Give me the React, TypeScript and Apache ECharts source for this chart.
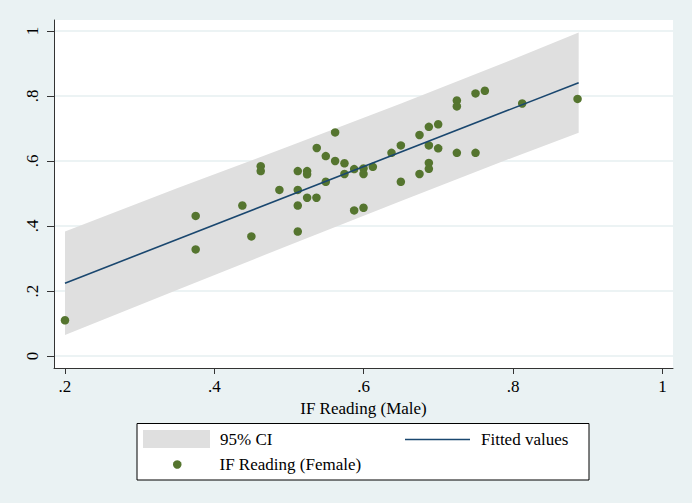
import React, { useEffect, useRef } from 'react';
import * as echarts from 'echarts';

// IF Reading (Male) on x, IF Reading (Female) on y
const maleReading = [
  0.2, 0.375, 0.375, 0.4375, 0.4496, 0.4621, 0.4621, 0.4871, 0.5117, 0.5117,
  0.5117, 0.5117, 0.5242, 0.5242, 0.5242, 0.5367, 0.5371, 0.5492, 0.5492, 0.5617,
  0.5617, 0.5742, 0.5742, 0.5872, 0.5872, 0.5997, 0.5997, 0.5997, 0.6122, 0.6372,
  0.6497, 0.6497, 0.6747, 0.6747, 0.6872, 0.6872, 0.6872, 0.6872, 0.6997, 0.6997,
  0.7247, 0.7247, 0.7247, 0.7497, 0.7497, 0.7622, 0.8122, 0.8863,
];
const femaleReading = [
  0.11, 0.431, 0.328, 0.463, 0.368, 0.584, 0.569, 0.511, 0.569, 0.511,
  0.463, 0.383, 0.569, 0.559, 0.487, 0.487, 0.64, 0.615, 0.536, 0.688,
  0.6, 0.593, 0.56, 0.575, 0.448, 0.577, 0.56, 0.456, 0.582, 0.625,
  0.648, 0.536, 0.68, 0.56, 0.705, 0.648, 0.594, 0.576, 0.713, 0.639,
  0.786, 0.768, 0.625, 0.808, 0.625, 0.816, 0.777, 0.791,
];

const ciX = [0.2, 0.35, 0.5, 0.65, 0.8, 0.8878];
const ciUpper = [0.383, 0.516, 0.645, 0.777, 0.913, 0.995];
const ciLower = [0.065, 0.203, 0.341, 0.477, 0.611, 0.687];

const fitX = [0.2, 0.8878];
const fitY = [0.224, 0.841];

const xTicks = [0.2, 0.4, 0.6, 0.8, 1];
const yTicks = [0, 0.2, 0.4, 0.6, 0.8, 1];

const SERIF = '"Liberation Serif", "Times New Roman", serif';

const fmt = (v: number) => {
  const s = String(Math.round(v * 10) / 10);
  return s.startsWith('0.') ? s.slice(1) : s;
};

export default function App() {
  const ref = useRef<HTMLDivElement>(null);

  useEffect(() => {
    if (!ref.current) return;
    const chart = echarts.init(ref.current, undefined, { renderer: 'svg' });
    const labelStyle = { fontFamily: SERIF, fontSize: 17, color: '#000' };
    chart.setOption({
      animation: false,
      backgroundColor: '#eaf2f3',
      grid: {
        left: 54,
        right: 19,
        top: 20,
        bottom: 135,
        show: true,
        backgroundColor: '#ffffff',
        borderWidth: 0,
      },
      xAxis: {
        type: 'value',
        min: 0.1853,
        max: 1.0141,
        axisLine: { show: true, onZero: false, lineStyle: { color: '#333', width: 1 } },
        axisTick: { show: true, length: 6, customValues: xTicks, lineStyle: { color: '#333' } },
        axisLabel: { customValues: xTicks, formatter: fmt, margin: 10, ...labelStyle },
        splitLine: { show: false },
        name: 'IF Reading (Male)',
        nameLocation: 'middle',
        nameGap: 22,
        nameTextStyle: labelStyle,
      },
      yAxis: {
        type: 'value',
        min: -0.0369,
        max: 1.0338,
        axisLine: { show: true, onZero: false, lineStyle: { color: '#333', width: 1 } },
        axisTick: { show: true, length: 7, customValues: yTicks, lineStyle: { color: '#333' } },
        axisLabel: { customValues: yTicks, formatter: fmt, rotate: 90, margin: 13, ...labelStyle },
        splitLine: { show: true, lineStyle: { color: '#e6eff1', width: 1.5 } },
      },
      legend: [
        {
          left: 143,
          top: 430,
          padding: 0,
          itemWidth: 67,
          itemHeight: 18,
          selectedMode: false,
          textStyle: { ...labelStyle, padding: [0, 0, 0, 5] },
          data: [{ name: '95% CI', icon: 'rect' }],
        },
        {
          left: 405,
          top: 431,
          padding: 0,
          itemWidth: 65,
          itemHeight: 1.6,
          selectedMode: false,
          textStyle: { ...labelStyle, padding: [0, 0, 0, 6] },
          data: [{ name: 'Fitted values', icon: 'rect' }],
        },
        {
          left: 173,
          top: 456,
          padding: 0,
          itemWidth: 8.5,
          itemHeight: 8.5,
          selectedMode: false,
          textStyle: { ...labelStyle, padding: [0, 0, 0, 33] },
          data: [{ name: 'IF Reading (Female)', icon: 'circle' }],
        },
      ],
      graphic: [
        {
          type: 'rect',
          z: 1,
          shape: { x: 137, y: 423.5, width: 452, height: 56.5 },
          style: { fill: '#ffffff', stroke: '#000000', lineWidth: 1 },
        },
      ],
      series: [
        {
          name: '95% CI',
          type: 'custom',
          silent: true,
          itemStyle: { color: '#dfdfdf' },
          encode: { x: 0, y: [1, 2] },
          data: ciX.map((x, i) => [x, ciLower[i], ciUpper[i]]),
          renderItem: (params: any, api: any) => {
            if (params.dataIndex !== 0) return null;
            const top = ciX.map((x, i) => api.coord([x, ciUpper[i]]));
            const bottom = ciX.map((x, i) => api.coord([x, ciLower[i]])).reverse();
            return {
              type: 'polygon',
              shape: { points: top.concat(bottom) },
              style: { fill: '#dfdfdf' },
            };
          },
        },
        {
          name: 'Fitted values',
          type: 'line',
          symbol: 'none',
          color: '#1a476f',
          lineStyle: { color: '#1a476f', width: 1.6 },
          data: fitX.map((x, i) => [x, fitY[i]]),
        },
        {
          name: 'IF Reading (Female)',
          type: 'scatter',
          symbol: 'circle',
          symbolSize: 8.5,
          color: '#55752f',
          itemStyle: { color: '#55752f', opacity: 1 },
          data: maleReading.map((x, i) => [x, femaleReading[i]]),
        },
      ],
    });
    return () => chart.dispose();
  }, []);

  return (
    <div
      ref={ref}
      style={{ position: 'fixed', left: 0, top: 0, width: 692, height: 503 }}
    />
  );
}
